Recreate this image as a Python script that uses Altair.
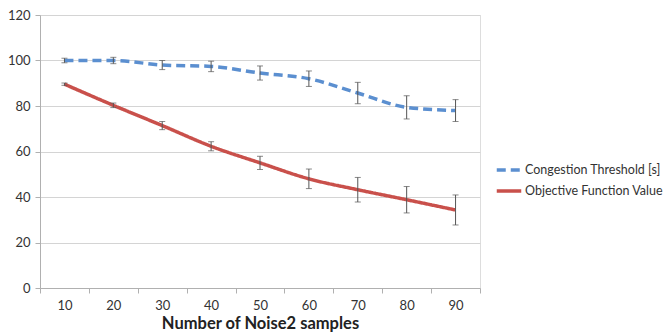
import altair as alt
import pandas as pd

samples = [10, 20, 30, 40, 50, 60, 70, 80, 90]
congestion = [100.0, 100.0, 98.0, 97.4, 94.5, 92.0, 85.7, 79.4, 78.0]
congestion_err = [1.0, 1.4, 2.0, 2.3, 3.1, 3.4, 4.7, 5.1, 4.8]
objective = [89.6, 80.3, 71.4, 62.3, 55.0, 48.0, 43.2, 38.8, 34.3]
objective_err = [0.5, 1.0, 1.8, 2.0, 2.9, 4.3, 5.4, 5.8, 6.6]
series_names = ["Congestion Threshold [s]", "Objective Function Value"]

rows = []
for s, v, e in zip(samples, congestion, congestion_err):
    rows.append({"x": str(s), "v": v, "lo": v - e, "hi": v + e, "series": series_names[0]})
for s, v, e in zip(samples, objective, objective_err):
    rows.append({"x": str(s), "v": v, "lo": v - e, "hi": v + e, "series": series_names[1]})
df = pd.DataFrame(rows)

FONT = "Lato"
xorder = [str(s) for s in samples]

xenc = alt.X("x:O", sort=xorder, bandPosition=0.5,
             scale=alt.Scale(type="band", paddingInner=0, paddingOuter=0),
             axis=alt.Axis(title="Number of Noise2 samples", labelAngle=0,
                           tickBand="extent", grid=False, domainColor="#b0b0b0",
                           tickColor="#b0b0b0", tickSize=5, labelPadding=6,
                           labelFontSize=13, labelColor="#333333", labelFont=FONT,
                           titleFont=FONT, titleFontSize=16.5, titleFontWeight="bold",
                           titleColor="#222222", titlePadding=3))
yscale = alt.Scale(domain=[0, 120])

legend_kw = dict(title=None, orient="none", legendX=455, legendY=141,
                 symbolType="stroke", symbolSize=600, symbolStrokeWidth=3.5,
                 labelFont=FONT, labelFontSize=12.5, labelColor="#333333",
                 rowPadding=0, labelOffset=2)

base = alt.Chart(df)

lines = base.mark_line(strokeWidth=3.5, interpolate="monotone").encode(
    x=xenc,
    y=alt.Y("v:Q", scale=yscale,
            axis=alt.Axis(title=None, values=[0, 20, 40, 60, 80, 100, 120],
                          gridColor="#d4d4d4", domainColor="#b0b0b0",
                          tickColor="#b0b0b0", tickSize=5, labelPadding=5,
                          labelFontSize=13, labelColor="#333333", labelFont=FONT)),
    color=alt.Color("series:N", scale=alt.Scale(domain=series_names, range=["#5b8fd0", "#c9504b"]),
                    legend=alt.Legend(**legend_kw)),
    strokeDash=alt.StrokeDash("series:N", scale=alt.Scale(domain=series_names, range=[[9, 5], [1, 0]]),
                              legend=alt.Legend(**legend_kw)),
)

rules = base.mark_rule(color="#555555", strokeWidth=1).encode(
    x=alt.X("x:O", sort=xorder, bandPosition=0.5),
    y=alt.Y("lo:Q", scale=yscale),
    y2="hi:Q",
)
caps_lo = base.mark_tick(color="#555555", thickness=1, size=6, orient="horizontal").encode(
    x=alt.X("x:O", sort=xorder, bandPosition=0.5),
    y=alt.Y("lo:Q", scale=yscale),
)
caps_hi = base.mark_tick(color="#555555", thickness=1, size=6, orient="horizontal").encode(
    x=alt.X("x:O", sort=xorder, bandPosition=0.5),
    y=alt.Y("hi:Q", scale=yscale),
)

chart = alt.layer(lines, rules, caps_lo, caps_hi).properties(
    width=440, height=273,
    autosize=alt.AutoSizeParams(type="none"),
    padding={"left": 40, "top": 15, "right": 186, "bottom": 45},
).configure_view(stroke=None).configure(background="white")

chart.save("out.html", embed_options={"renderer": "svg", "actions": False})
